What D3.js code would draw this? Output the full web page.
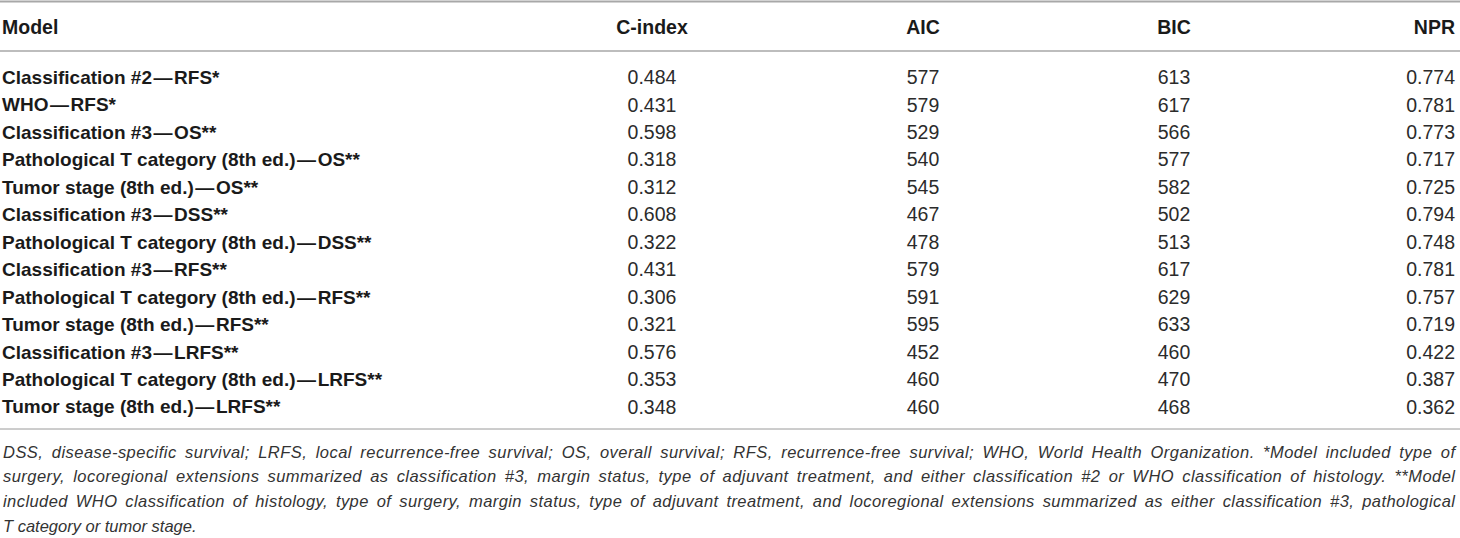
<!DOCTYPE html>
<html>
<head>
<meta charset="utf-8">
<style>
  body { margin: 0; background: #fff; }
  svg { display: block; }
  .hdr { font-weight: bold; fill: #1a1a1a; }
  .lbl { font-weight: bold; fill: #1a1a1a; }
  .num { fill: #2b2b2b; }
  .note { font-style: italic; fill: #333; }
</style>
</head>
<body>
<svg width="1460" height="538" font-family="'Liberation Sans', Arial, sans-serif"></svg>
<script src="https://cdnjs.cloudflare.com/ajax/libs/d3/7.8.5/d3.min.js"></script>
<script>
var columns = ["Model", "C-index", "AIC", "BIC", "NPR"];

var models = [
  "Classification #2\u200A\u2014\u200ARFS*",
  "WHO\u200A\u2014\u200ARFS*",
  "Classification #3\u200A\u2014\u200AOS**",
  "Pathological T category (8th ed.)\u200A\u2014\u200AOS**",
  "Tumor stage (8th ed.)\u200A\u2014\u200AOS**",
  "Classification #3\u200A\u2014\u200ADSS**",
  "Pathological T category (8th ed.)\u200A\u2014\u200ADSS**",
  "Classification #3\u200A\u2014\u200ARFS**",
  "Pathological T category (8th ed.)\u200A\u2014\u200ARFS**",
  "Tumor stage (8th ed.)\u200A\u2014\u200ARFS**",
  "Classification #3\u200A\u2014\u200ALRFS**",
  "Pathological T category (8th ed.)\u200A\u2014\u200ALRFS**",
  "Tumor stage (8th ed.)\u200A\u2014\u200ALRFS**"
];

var cIndex = [0.484, 0.431, 0.598, 0.318, 0.312, 0.608, 0.322, 0.431, 0.306, 0.321, 0.576, 0.353, 0.348];
var aic    = [577, 579, 529, 540, 545, 467, 478, 579, 591, 595, 452, 460, 460];
var bic    = [613, 617, 566, 577, 582, 502, 513, 617, 629, 633, 460, 470, 468];
var npr    = [0.774, 0.781, 0.773, 0.717, 0.725, 0.794, 0.748, 0.781, 0.757, 0.719, 0.422, 0.387, 0.362];

var footnote = [
  "DSS, disease-specific survival; LRFS, local recurrence-free survival; OS, overall survival; RFS, recurrence-free survival; WHO, World Health Organization. *Model included type of",
  "surgery, locoregional extensions summarized as classification #3, margin status, type of adjuvant treatment, and either classification #2 or WHO classification of histology. **Model",
  "included WHO classification of histology, type of surgery, margin status, type of adjuvant treatment, and locoregional extensions summarized as either classification #3, pathological",
  "T category or tumor stage."
];

var svg = d3.select("svg"),
    width = +svg.attr("width"),
    left = 2,
    right = 1455;

var rows = models.map(function(m, i) {
  return { model: m, values: [cIndex[i].toFixed(3), aic[i], bic[i], npr[i].toFixed(3)] };
});

// row positions
var y = d3.scaleBand()
    .domain(models)
    .range([63.5, 420.5]);

// column anchors: C-index, AIC, BIC centred; NPR right aligned
var x = d3.scaleOrdinal()
    .domain(columns)
    .range([left, 652, 923, 1174, right]);
var anchor = d3.scaleOrdinal()
    .domain(columns)
    .range(["start", "middle", "middle", "middle", "end"]);

// rules
svg.append("line").attr("x1", 0).attr("x2", width).attr("y1", 1.5).attr("y2", 1.5)
    .attr("stroke", "#a8a8a8").attr("stroke-width", 2);
svg.append("line").attr("x1", 0).attr("x2", width).attr("y1", 51).attr("y2", 51)
    .attr("stroke", "#bdbdbd").attr("stroke-width", 2);
svg.append("line").attr("x1", 0).attr("x2", width).attr("y1", 429).attr("y2", 429)
    .attr("stroke", "#9a9a9a").attr("stroke-width", 1);

// header
svg.append("g").selectAll("text")
  .data(columns)
  .enter().append("text")
    .attr("class", "hdr")
    .attr("x", function(d) { return x(d); })
    .attr("y", 27)
    .attr("dy", "0.35em")
    .attr("font-size", 19.5)
    .attr("text-anchor", function(d) { return anchor(d); })
    .text(function(d) { return d; });

// body
var row = svg.append("g").selectAll("g")
  .data(rows)
  .enter().append("g")
    .attr("transform", function(d) { return "translate(0," + (y(d.model) + y.bandwidth() / 2) + ")"; });

row.append("text")
    .attr("class", "lbl")
    .attr("x", x("Model"))
    .attr("dy", "0.35em")
    .attr("font-size", 19)
    .text(function(d) { return d.model; });

row.selectAll("text.num")
  .data(function(d) { return d.values.map(function(v, j) { return { col: columns[j + 1], v: v }; }); })
  .enter().append("text")
    .attr("class", "num")
    .attr("x", function(d) { return x(d.col); })
    .attr("dy", "0.35em")
    .attr("font-size", 19.5)
    .attr("text-anchor", function(d) { return anchor(d.col); })
    .text(function(d) { return d.v; });

// footnote, justified lines: extra width shared by letter and word spacing
svg.append("g").selectAll("text")
  .data(footnote)
  .enter().append("text")
    .attr("class", "note")
    .attr("x", 3)
    .attr("y", function(d, i) { return 452 + i * 24.7; })
    .attr("dy", "0.35em")
    .attr("font-size", 16.5)
    .text(function(d) { return d; })
    .each(function(d, i) {
      if (i < footnote.length - 1) {
        var extra = (right - 3) - this.getComputedTextLength(),
            gaps = d.split(" ").length - 1,
            chars = d.length - 1;
        d3.select(this)
            .attr("letter-spacing", extra * 0.55 / chars)
            .attr("word-spacing", extra * 0.45 / gaps);
      }
    });
</script>
</body>
</html>
